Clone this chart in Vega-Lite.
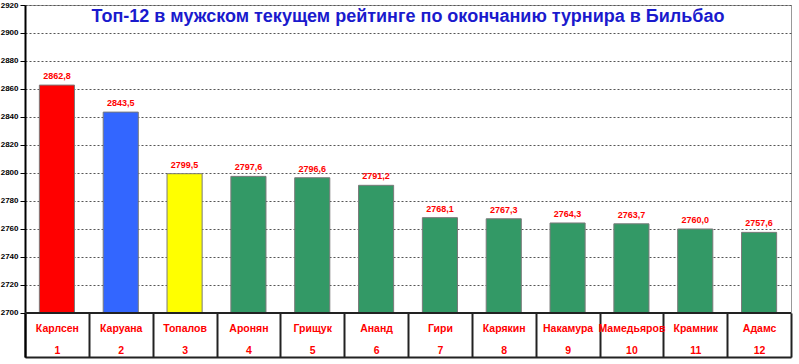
{
  "$schema": "https://vega.github.io/schema/vega-lite/v6.json",
  "width": 766,
  "height": 352,
  "autosize": "none",
  "padding": {"left": 25, "top": 5, "right": 8, "bottom": 7},
  "background": "white",
  "title": {
    "text": "Топ-12 в мужском текущем рейтинге по окончанию турнира в Бильбао",
    "font": "Liberation Sans",
    "fontSize": 18,
    "fontWeight": "bold",
    "color": "#1a1acd",
    "anchor": "middle",
    "frame": "group",
    "baseline": "alphabetic",
    "offset": -39
  },
  "data": {
    "values": [
      {"name": "Карлсен", "rank": 1, "rating": 2862.8},
      {"name": "Каруана", "rank": 2, "rating": 2843.5},
      {"name": "Топалов", "rank": 3, "rating": 2799.5},
      {"name": "Аронян", "rank": 4, "rating": 2797.6},
      {"name": "Грищук", "rank": 5, "rating": 2796.6},
      {"name": "Ананд", "rank": 6, "rating": 2791.2},
      {"name": "Гири", "rank": 7, "rating": 2768.1},
      {"name": "Карякин", "rank": 8, "rating": 2767.3},
      {"name": "Накамура", "rank": 9, "rating": 2764.3},
      {"name": "Мамедьяров", "rank": 10, "rating": 2763.7},
      {"name": "Крамник", "rank": 11, "rating": 2760.0},
      {"name": "Адамс", "rank": 12, "rating": 2757.6}
    ]
  },
  "transform": [
    {"calculate": "datum.name + '|' + datum.rank", "as": "key"},
    {"calculate": "replace(format(datum.rating, '.1f'), '.', ',')", "as": "lbl"}
  ],
  "encoding": {
    "x": {
      "field": "key", "type": "nominal", "sort": null,
      "scale": {"paddingInner": 0, "paddingOuter": 0},
      "axis": {
        "orient": "bottom",
        "title": null,
        "labelExpr": "isString(datum.value) ? split(datum.value, '|') : ''",
        "labelAngle": 0,
        "labelLimit": 120,
        "labelFont": "Liberation Sans",
        "labelFontSize": 10.5,
        "labelFontWeight": "bold",
        "labelColor": "#ff0000",
        "labelLineHeight": 22,
        "labelBaseline": "top",
        "labelPadding": 10,
        "tickBand": "extent",
        "tickSize": -44,
        "tickWidth": 2,
        "tickColor": "#222222",
        "domainColor": "#222222",
        "domainWidth": 2,
        "grid": false
      }
    },
    "y": {
      "field": "rating", "type": "quantitative",
      "scale": {"domain": [2668.5714, 2920], "nice": false, "zero": false},
      "axis": {
        "title": null,
        "values": [2700, 2720, 2740, 2760, 2780, 2800, 2820, 2840, 2860, 2880, 2900, 2920],
        "format": "d",
        "labelOverlap": false,
        "labelFont": "Liberation Sans",
        "labelFontSize": 8,
        "labelFontWeight": "bold",
        "labelColor": "#000000",
        "labelPadding": 2,
        "tickSize": 5,
        "tickColor": "#000000",
        "domainColor": "#000000",
        "domainWidth": 2,
        "grid": true,
        "gridColor": "#555555",
        "gridDash": [2, 2],
        "gridWidth": 1
      }
    }
  },
  "layer": [
    {
      "mark": {"type": "bar", "stroke": "#7a7a7a", "strokeWidth": 1, "width": {"band": 0.55}},
      "encoding": {
        "y2": {"datum": 2700},
        "color": {
          "field": "name", "type": "nominal", "legend": null,
          "scale": {
            "domain": ["Карлсен", "Каруана", "Топалов", "Аронян", "Грищук", "Ананд", "Гири", "Карякин", "Накамура", "Мамедьяров", "Крамник", "Адамс"],
            "range": ["#ff0000", "#3366ff", "#ffff00", "#339966", "#339966", "#339966", "#339966", "#339966", "#339966", "#339966", "#339966", "#339966"]
          }
        }
      }
    },
    {
      "mark": {"type": "text", "baseline": "bottom", "dy": -4, "font": "Liberation Sans", "fontSize": 9, "fontWeight": "bold", "color": "#ff0000"},
      "encoding": {
        "text": {"field": "lbl"}
      }
    },
    {
      "mark": {"type": "rule", "color": "#222222", "strokeWidth": 2},
      "encoding": {
        "x": null,
        "y": {"datum": 2700}
      }
    }
  ],
  "config": {"view": {"stroke": "#999999"}}
}
